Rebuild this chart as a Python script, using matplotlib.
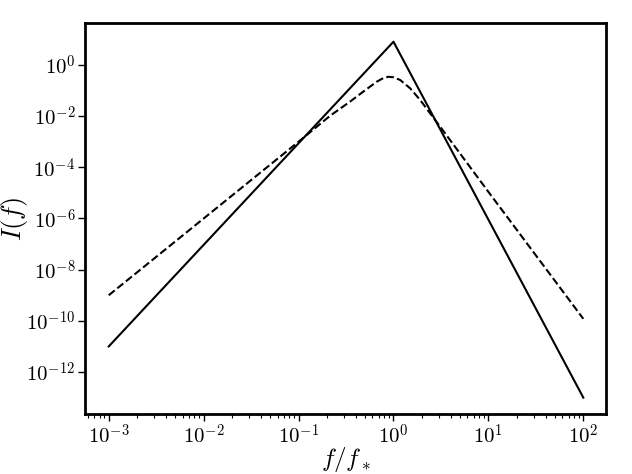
import matplotlib
matplotlib.use("Agg")
import matplotlib.pyplot as plt
import matplotlib.ticker as mticker
import numpy as np

plt.rcParams['mathtext.fontset'] = 'cm'
plt.rcParams['font.family'] = 'serif'
plt.rcParams['font.serif'] = ['DejaVu Serif']

# solid curve: broken power law
f_solid = [1e-3, 1.0, 1e2]
I_solid = [1e-11, 8.1, 1e-13]

# dashed curve: smooth peak
f_dash = [1e-3, 1e-2, 0.1, 0.214, 0.348, 0.481, 0.667, 0.78, 0.883, 1.0,
          1.175, 1.496, 1.91, 2.43, 3.10, 10.0, 1e2]
I_dash = [1e-9, 1e-6, 1e-3, 1.02e-2, 3.67e-2, 9.1e-2, 0.222, 0.305, 0.345, 0.33,
          0.259, 0.123, 4.29e-2, 1.29e-2, 3.9e-3, 1.1e-5, 1.2e-10]

yticks = [1e0, 1e-2, 1e-4, 1e-6, 1e-8, 1e-10, 1e-12]


def pow10(v, pos):
    return r'$10^{%d}$' % int(round(np.log10(v)))


fig = plt.figure(figsize=(6.32, 4.74), dpi=100)
ax = fig.add_axes([0.1345, 0.1266, 0.8245, 0.8249])

ax.plot(f_solid, I_solid, color='black', lw=1.5)
ax.plot(f_dash, I_dash, color='black', lw=1.5, ls='--')

ax.set_xscale('log')
ax.set_yscale('log')
ax.set_xlim(10**-3.25, 10**2.24)
ax.set_ylim(10**-13.64, 10**1.64)

ax.set_yticks(yticks)
ax.yaxis.set_minor_locator(mticker.NullLocator())
ax.xaxis.set_major_locator(mticker.LogLocator(base=10, numticks=10))
ax.xaxis.set_minor_locator(mticker.LogLocator(base=10, subs=range(2, 10), numticks=20))
ax.xaxis.set_major_formatter(mticker.FuncFormatter(pow10))
ax.yaxis.set_major_formatter(mticker.FuncFormatter(pow10))

for s in ax.spines.values():
    s.set_linewidth(2)
ax.tick_params(which='major', direction='out', length=5, width=1, labelsize=15, pad=2)
ax.tick_params(which='minor', direction='out', length=3, width=0.8)

ax.set_xlabel(r'$f/f_*$', fontsize=18)
ax.set_ylabel(r'$I(f)$', fontsize=19)
ax.xaxis.set_label_coords(0.5, -0.08)
ax.yaxis.set_label_coords(-0.105, 0.5)

fig.savefig('out.png', dpi=100)
